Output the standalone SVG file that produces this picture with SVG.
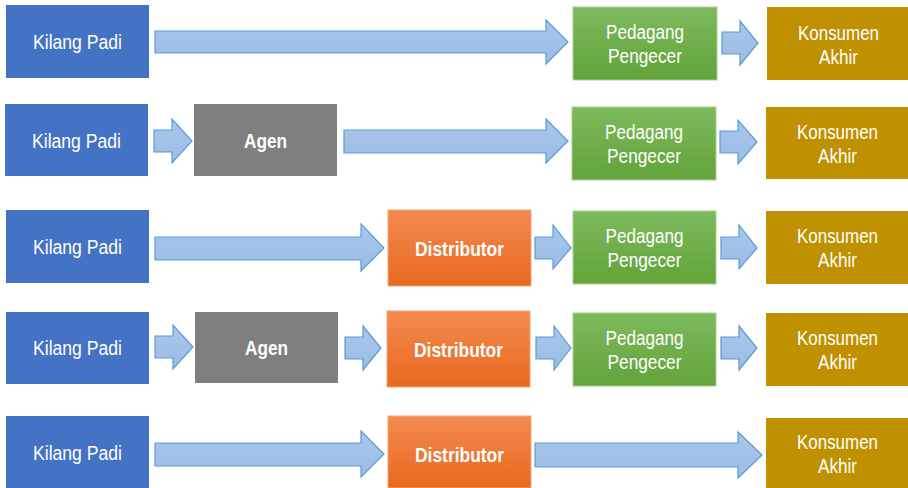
<svg xmlns="http://www.w3.org/2000/svg" width="908" height="488" viewBox="0 0 908 488">
<defs>
<linearGradient id="gGreen" x1="0" y1="0" x2="0" y2="1"><stop offset="0" stop-color="#7DBA5D"/><stop offset="1" stop-color="#62A33A"/></linearGradient>
<linearGradient id="gOrange" x1="0" y1="0" x2="0" y2="1"><stop offset="0" stop-color="#F48A50"/><stop offset="1" stop-color="#E8691E"/></linearGradient>
<linearGradient id="gArrow" x1="0" y1="0" x2="0" y2="1"><stop offset="0" stop-color="#A9C7EB"/><stop offset="1" stop-color="#9BBCE4"/></linearGradient>
</defs>
<style>
.kil{fill:#4472C4}
.agen{fill:#7F7F7F}
.dist{fill:url(#gOrange);stroke:#F3A57A;stroke-width:1}
.ped{fill:url(#gGreen);stroke:#A9D18E;stroke-width:1}
.kon{fill:#BF9000}
.t{font-family:"Liberation Sans",Arial,sans-serif;font-size:20px;fill:#FFFFFF;text-anchor:middle}
.b{font-weight:bold}
.arr{fill:url(#gArrow);stroke:#5B9BD5;stroke-width:1.2;stroke-linejoin:miter}
</style>
<g id="connectors">
<path class="arr" d="M155,31 H546 V20 L568,42 L546,64 V53 H155 Z"/>
<path class="arr" d="M722,32 H740 V21 L758,43 L740,65 V54 H722 Z"/>
<path class="arr" d="M154,130 H172 V119 L192,141 L172,163 V152 H154 Z"/>
<path class="arr" d="M344,130 H546 V119 L568,141 L546,163 V153 H344 Z"/>
<path class="arr" d="M720,131 H738 V120 L757,142 L738,164 V153 H720 Z"/>
<path class="arr" d="M155,237 H361 V224 L384,248 L361,271 V260 H155 Z"/>
<path class="arr" d="M535,237 H553 V225 L571,248 L553,269 V259 H535 Z"/>
<path class="arr" d="M721,237 H739 V225 L757,248 L739,269 V259 H721 Z"/>
<path class="arr" d="M155,336 H173 V325 L193,347 L173,369 V358 H155 Z"/>
<path class="arr" d="M345,337 H363 V326 L381,348 L363,370 V359 H345 Z"/>
<path class="arr" d="M536,337 H554 V326 L571,348 L554,370 V359 H536 Z"/>
<path class="arr" d="M721,337 H739 V326 L757,348 L739,370 V359 H721 Z"/>
<path class="arr" d="M155,443 H361 V431 L384,454 L361,477 V466 H155 Z"/>
<path class="arr" d="M535,443 H738 V432 L762,455 L738,478 V467 H535 Z"/>
</g>
<g id="r1-kilang"><rect class="kil" x="6" y="5" width="143" height="73"/><text class="t" x="77.5" y="49" textLength="89" lengthAdjust="spacingAndGlyphs">Kilang Padi</text></g>
<g id="r1-pedagang"><rect class="ped" x="573" y="7" width="144" height="73"/><text class="t" x="645" y="39" textLength="78" lengthAdjust="spacingAndGlyphs">Pedagang</text><text class="t" x="645" y="63" textLength="74" lengthAdjust="spacingAndGlyphs">Pengecer</text></g>
<g id="r1-konsumen"><rect class="kon" x="767" y="7" width="141" height="73"/><text class="t" x="838.5" y="40" textLength="81" lengthAdjust="spacingAndGlyphs">Konsumen</text><text class="t" x="838.5" y="64" textLength="39" lengthAdjust="spacingAndGlyphs">Akhir</text></g>

<g id="r2-kilang"><rect class="kil" x="5" y="104" width="143" height="72"/><text class="t" x="76.5" y="148" textLength="89" lengthAdjust="spacingAndGlyphs">Kilang Padi</text></g>
<g id="r2-agen"><rect class="agen" x="194" y="104" width="143" height="72"/><text class="t b" x="265.5" y="148" textLength="43" lengthAdjust="spacingAndGlyphs">Agen</text></g>
<g id="r2-pedagang"><rect class="ped" x="572" y="107" width="144" height="73"/><text class="t" x="644" y="139" textLength="78" lengthAdjust="spacingAndGlyphs">Pedagang</text><text class="t" x="644" y="163" textLength="74" lengthAdjust="spacingAndGlyphs">Pengecer</text></g>
<g id="r2-konsumen"><rect class="kon" x="766" y="107" width="142" height="72"/><text class="t" x="837.5" y="139" textLength="81" lengthAdjust="spacingAndGlyphs">Konsumen</text><text class="t" x="837.5" y="163" textLength="39" lengthAdjust="spacingAndGlyphs">Akhir</text></g>

<g id="r3-kilang"><rect class="kil" x="6" y="210" width="143" height="73"/><text class="t" x="77.5" y="254" textLength="89" lengthAdjust="spacingAndGlyphs">Kilang Padi</text></g>
<g id="r3-distributor"><rect class="dist" x="388" y="210" width="143" height="76"/><text class="t b" x="459.5" y="256" textLength="89" lengthAdjust="spacingAndGlyphs">Distributor</text></g>
<g id="r3-pedagang"><rect class="ped" x="573" y="211" width="143" height="73"/><text class="t" x="644.5" y="243" textLength="78" lengthAdjust="spacingAndGlyphs">Pedagang</text><text class="t" x="644.5" y="267" textLength="74" lengthAdjust="spacingAndGlyphs">Pengecer</text></g>
<g id="r3-konsumen"><rect class="kon" x="766" y="211" width="142" height="73"/><text class="t" x="837.5" y="243" textLength="81" lengthAdjust="spacingAndGlyphs">Konsumen</text><text class="t" x="837.5" y="267" textLength="39" lengthAdjust="spacingAndGlyphs">Akhir</text></g>

<g id="r4-kilang"><rect class="kil" x="6" y="312" width="143" height="72"/><text class="t" x="77.5" y="355" textLength="89" lengthAdjust="spacingAndGlyphs">Kilang Padi</text></g>
<g id="r4-agen"><rect class="agen" x="195" y="312" width="143" height="71"/><text class="t b" x="266.5" y="355" textLength="43" lengthAdjust="spacingAndGlyphs">Agen</text></g>
<g id="r4-distributor"><rect class="dist" x="387" y="311" width="143" height="76"/><text class="t b" x="458.5" y="357" textLength="89" lengthAdjust="spacingAndGlyphs">Distributor</text></g>
<g id="r4-pedagang"><rect class="ped" x="573" y="313" width="143" height="73"/><text class="t" x="644.5" y="345" textLength="78" lengthAdjust="spacingAndGlyphs">Pedagang</text><text class="t" x="644.5" y="369" textLength="74" lengthAdjust="spacingAndGlyphs">Pengecer</text></g>
<g id="r4-konsumen"><rect class="kon" x="766" y="313" width="142" height="73"/><text class="t" x="837.5" y="345" textLength="81" lengthAdjust="spacingAndGlyphs">Konsumen</text><text class="t" x="837.5" y="369" textLength="39" lengthAdjust="spacingAndGlyphs">Akhir</text></g>

<g id="r5-kilang"><rect class="kil" x="6" y="416" width="143" height="72"/><text class="t" x="77.5" y="460" textLength="89" lengthAdjust="spacingAndGlyphs">Kilang Padi</text></g>
<g id="r5-distributor"><rect class="dist" x="388" y="416" width="143" height="72"/><text class="t b" x="459.5" y="462" textLength="89" lengthAdjust="spacingAndGlyphs">Distributor</text></g>
<g id="r5-konsumen"><rect class="kon" x="766" y="418" width="142" height="70"/><text class="t" x="837.5" y="449" textLength="81" lengthAdjust="spacingAndGlyphs">Konsumen</text><text class="t" x="837.5" y="473" textLength="39" lengthAdjust="spacingAndGlyphs">Akhir</text></g>
</svg>
